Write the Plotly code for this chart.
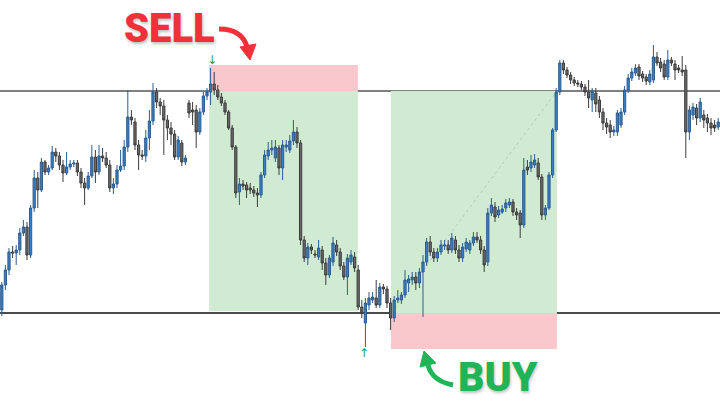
import plotly.graph_objects as go

# ---- data (price units) ----
opens = [94,119,134,152,151,154,171,177,149,196,226,214,242,232,236,252,248,239,231,237,
         240,241,232,221,216,228,247,232,248,246,239,216,220,234,238,257,287,282,259,249,
         248,266,283,312,302,298,284,276,270,247,261,242,301,294,294,272,292,308,312,320,
         314,307,301,292,276,257,212,220,219,216,214,211,209,229,248,254,246,256,236,257,
         254,263,272,261,164,146,157,150,147,154,141,129,142,159,152,138,127,142,147,134,
         97,81,99,104,106,99,117,115,101,86,104,104,109,121,124,127,121,132,142,162,
         152,146,152,158,159,154,164,154,146,155,154,161,167,164,154,142,191,197,189,192,
         196,199,202,192,191,179,237,236,239,241,227,189,196,229,274,312,341,334,329,324,
         321,320,317,312,304,311,304,292,281,279,272,272,279,292,314,326,331,337,330,327,
         322,324,347,342,340,327,344,340,336,334,334,272,289,296,286,289,286,281,279,277]
closes = [119,134,152,151,154,171,177,149,196,226,214,242,232,236,252,248,239,231,237,240,
          241,232,221,216,228,247,232,248,246,239,216,220,234,238,257,287,284,259,249,248,
          266,283,312,302,298,284,276,270,247,264,242,246,291,292,272,292,308,312,320,314,
          307,301,292,276,257,211,220,218,214,214,211,209,229,249,254,256,257,236,259,259,
          263,272,261,164,146,157,154,149,156,141,129,146,161,152,138,127,146,149,136,97,
          91,101,106,107,99,117,115,101,86,104,106,109,124,125,127,121,132,142,162,152,
          146,152,159,159,154,166,154,146,157,162,161,167,164,154,139,191,199,187,194,195,
          201,202,192,189,179,234,234,242,244,227,189,196,229,274,312,341,334,329,324,321,
          320,317,312,306,313,300,292,281,277,272,274,291,292,314,326,332,336,328,326,323,
          330,347,341,336,327,344,341,334,334,332,272,294,297,286,302,284,281,276,276,282]
highs = [122,139,156,158,159,176,184,182,199,234,232,246,244,239,258,256,252,244,252,244,
         244,244,236,226,232,259,254,259,256,252,244,226,239,254,264,314,294,286,264,254,
         274,294,321,316,306,304,289,282,274,268,264,249,304,302,299,296,312,316,336,332,
         319,311,304,294,279,259,226,224,222,221,218,216,232,254,262,264,264,259,264,264,
         269,284,277,264,168,161,160,154,164,158,146,149,167,164,156,142,150,154,152,139,
         104,106,112,112,124,121,120,118,106,108,114,112,134,129,132,132,136,149,166,168,
         156,156,164,164,164,171,168,159,161,166,164,172,172,168,158,196,206,202,198,199,
         205,206,205,196,194,246,244,249,250,246,230,199,232,276,316,344,344,337,332,327,
         324,323,320,324,316,316,308,296,286,284,278,294,296,318,330,336,340,340,333,330,
         334,359,352,346,344,354,347,344,339,348,339,298,301,300,306,294,290,286,284,286]
lows = [88,114,129,146,139,149,168,144,146,192,196,212,229,229,234,242,234,222,229,234,
        237,228,216,199,214,226,221,229,242,236,212,210,216,232,234,252,279,254,234,244,
        242,254,279,296,289,249,264,259,244,244,238,239,286,279,256,269,289,304,299,309,
        304,298,289,274,254,206,199,214,206,210,207,197,206,226,244,249,242,229,224,252,
        251,259,256,159,142,139,150,146,144,134,119,126,138,148,134,124,109,139,132,94,
        86,57,94,101,96,96,110,96,74,82,101,100,106,112,119,114,116,87,138,148,
        142,142,149,154,150,151,150,142,142,152,150,158,161,150,132,138,188,182,186,190,
        192,196,188,184,166,176,229,232,236,224,184,184,194,226,272,309,330,326,320,318,
        317,314,308,296,292,292,286,274,270,266,268,268,276,289,311,323,328,324,322,319,
        319,321,338,332,324,324,338,324,331,328,246,264,284,279,282,276,272,269,272,274]
idx = list(range(len(closes)))

resistance = 313
support = 91
sell_stop = 339
buy_stop = 55
sell_zone = (57.6, 98.9)   # candle index span of the sell setup
buy_zone = (108.1, 154.2)  # candle index span of the buy setup

W, H = 720, 404
def px(x):  # pixel -> paper x
    return x / W
def py(y):  # pixel -> paper y
    return 1 - y / H

fig = go.Figure()
fig.add_trace(go.Candlestick(
    x=idx, open=opens, high=highs, low=lows, close=closes,
    increasing=dict(line=dict(color="#2c5e92", width=1), fillcolor="#3a7dc2"),
    decreasing=dict(line=dict(color="#3c3c3c", width=1), fillcolor="#6a6a6a"),
    whiskerwidth=0, hoverinfo="skip",
))

shapes = []
# zones
shapes.append(dict(type="rect", xref="x", yref="y", x0=sell_zone[0], x1=sell_zone[1],
                   y0=resistance, y1=sell_stop, fillcolor="#f9c8cc", line_width=0, layer="below"))
shapes.append(dict(type="rect", xref="x", yref="y", x0=sell_zone[0], x1=sell_zone[1],
                   y0=support + 2, y1=resistance, fillcolor="#d1ebd2", line_width=0, layer="below"))
shapes.append(dict(type="rect", xref="x", yref="y", x0=buy_zone[0], x1=buy_zone[1],
                   y0=support, y1=resistance, fillcolor="#d1ebd2", line_width=0, layer="below"))
shapes.append(dict(type="rect", xref="x", yref="y", x0=buy_zone[0], x1=buy_zone[1],
                   y0=buy_stop, y1=support, fillcolor="#f9c8cc", line_width=0, layer="below"))
# diagonal dotted
shapes.append(dict(type="line", xref="x", yref="y", x0=buy_zone[0], x1=buy_zone[1],
                   y0=support, y1=resistance, line=dict(color="rgba(120,140,120,0.35)", width=1, dash="dot"),
                   layer="below"))
# horizontal levels
shapes.append(dict(type="line", xref="paper", yref="y", x0=0, x1=1, y0=resistance, y1=resistance,
                   line=dict(color="#555555", width=1.5), layer="below"))
shapes.append(dict(type="line", xref="paper", yref="y", x0=0, x1=1, y0=support, y1=support,
                   line=dict(color="#111111", width=1.5), layer="below"))

# curved arrows (decoration)
red = "#f0313a"
green = "#1fb457"
shapes.append(dict(type="path", xref="paper", yref="paper",
                   path=f"M {px(219)},{py(29)} Q {px(242)},{py(29)} {px(247)},{py(47)}",
                   line=dict(color=red, width=5)))
shapes.append(dict(type="path", xref="paper", yref="paper",
                   path=f"M {px(240)},{py(47)} L {px(256)},{py(44)} L {px(250)},{py(60)} Z",
                   fillcolor=red, line=dict(color=red, width=1)))
shapes.append(dict(type="path", xref="paper", yref="paper",
                   path=f"M {px(453)},{py(385)} Q {px(432)},{py(381)} {px(428)},{py(365)}",
                   line=dict(color=green, width=5)))
shapes.append(dict(type="path", xref="paper", yref="paper",
                   path=f"M {px(420)},{py(367)} L {px(436)},{py(363)} L {px(424)},{py(351)} Z",
                   fillcolor=green, line=dict(color=green, width=1)))

annotations = [
    dict(text="SELL", xref="paper", yref="paper", x=px(169), y=py(29), showarrow=False,
         xanchor="center", yanchor="middle",
         font=dict(family="Roboto", size=40, color=red, weight=900,
                   shadow="1px 2px 3px rgba(0,0,0,0.25)")),
    dict(text="BUY", xref="paper", yref="paper", x=px(498), y=py(377), showarrow=False,
         xanchor="center", yanchor="middle",
         font=dict(family="Roboto", size=41, color=green, weight=900,
                   shadow="1px 2px 3px rgba(0,0,0,0.25)")),
    dict(text="↓", xref="paper", yref="paper", x=px(212), y=py(60), showarrow=False,
         xanchor="center", yanchor="middle", font=dict(family="DejaVu Sans", size=12, color="#2e9b40")),
    dict(text="↑", xref="paper", yref="paper", x=px(364), y=py(353), showarrow=False,
         xanchor="center", yanchor="middle", font=dict(family="DejaVu Sans", size=12, color="#2e9b40")),
]

fig.update_layout(
    width=W, height=H, margin=dict(l=0, r=0, t=0, b=0),
    paper_bgcolor="white", plot_bgcolor="white", showlegend=False,
    shapes=shapes, annotations=annotations, boxgap=0.12,
    xaxis=dict(range=[-0.5, len(closes) - 0.5], visible=False, rangeslider=dict(visible=False)),
    yaxis=dict(range=[0, H], visible=False),
)
fig.write_html("out.html", config={"displayModeBar": False},
               post_script="document.body.style.margin='0';document.body.style.padding='0';")
